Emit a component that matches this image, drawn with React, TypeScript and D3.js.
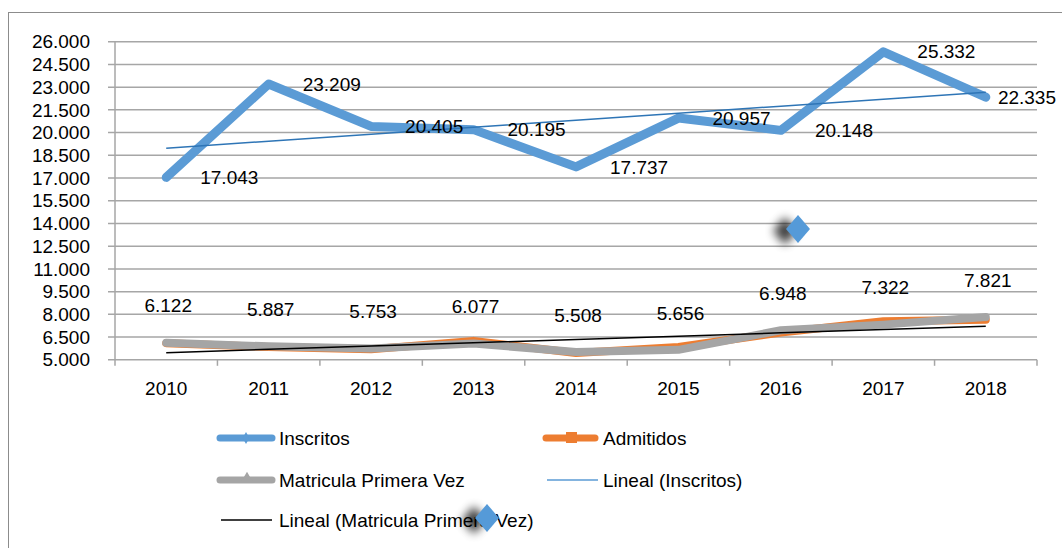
import React, { useEffect, useRef } from 'react';
import * as d3 from 'd3';

const years = ['2010', '2011', '2012', '2013', '2014', '2015', '2016', '2017', '2018'];
const inscritos = [17043, 23209, 20405, 20195, 17737, 20957, 20148, 25332, 22335];
const admitidos = [6100, 5850, 5700, 6250, 5450, 5850, 6800, 7550, 7650];
const matricula = [6122, 5887, 5753, 6077, 5508, 5656, 6948, 7322, 7821];
const yTicks = [5000, 6500, 8000, 9500, 11000, 12500, 14000, 15500, 17000, 18500, 20000, 21500, 23000, 24500, 26000];

const FONT = '"Liberation Sans", Arial, sans-serif';
const BLUE = '#5b9bd5';
const ORANGE = '#ed7d31';
const GREY = '#a5a5a5';

// least squares fit over the category index (Excel "Lineal" trendline)
function linearFit(values: number[]) {
  const n = values.length;
  const mx = (n - 1) / 2;
  const my = d3.mean(values) as number;
  let num = 0;
  let den = 0;
  values.forEach((v, i) => {
    num += (i - mx) * (v - my);
    den += (i - mx) * (i - mx);
  });
  const slope = num / den;
  return values.map((_, i) => my + slope * (i - mx));
}

function App() {
  const ref = useRef<SVGSVGElement | null>(null);

  const width = 1062;
  const height = 548;

  useEffect(() => {
    drawChart();
  }, []);

  function drawChart() {
    const svg = d3.select(ref.current);
    svg.selectAll('*').remove();

    const x = d3.scaleBand().domain(years).range([115, 1037]);
    const y = d3.scaleLinear().domain([5000, 26000]).range([359.8, 41.7]);
    const cx = (d: string) => (x(d) as number) + x.bandwidth() / 2;
    const fmt = d3.formatLocale({ decimal: ',', thousands: '.', grouping: [3], currency: ['', ''] }).format(',');

    const defs = svg.append('defs');
    defs
      .append('filter')
      .attr('id', 'blur')
      .attr('x', '-100%')
      .attr('y', '-100%')
      .attr('width', '300%')
      .attr('height', '300%')
      .append('feGaussianBlur')
      .attr('stdDeviation', 5);

    // outer chart frame
    svg
      .append('rect')
      .attr('x', 8.5)
      .attr('y', 12.5)
      .attr('width', 1200)
      .attr('height', 700)
      .attr('fill', '#fff')
      .attr('stroke', '#8c8c8c')
      .attr('stroke-width', 1);

    // gridlines
    svg
      .append('g')
      .selectAll('line')
      .data(yTicks)
      .enter()
      .append('line')
      .attr('x1', 108)
      .attr('x2', 1037)
      .attr('y1', d => y(d))
      .attr('y2', d => y(d))
      .attr('stroke', '#a6a6a6')
      .attr('stroke-width', 1.5);

    // y axis line + labels
    svg
      .append('line')
      .attr('x1', 115)
      .attr('x2', 115)
      .attr('y1', y(26000))
      .attr('y2', y(5000))
      .attr('stroke', '#a6a6a6')
      .attr('stroke-width', 1.5);

    svg
      .append('g')
      .selectAll('text')
      .data(yTicks)
      .enter()
      .append('text')
      .attr('x', 90)
      .attr('y', d => y(d))
      .attr('dy', '0.35em')
      .attr('text-anchor', 'end')
      .style('font-family', FONT)
      .style('font-size', '19px')
      .attr('fill', '#000')
      .text(d => fmt(d));

    // x axis ticks + labels
    const tickPos = years.map(d => x(d) as number).concat([x.range()[1]]);
    svg
      .append('g')
      .selectAll('line')
      .data(tickPos)
      .enter()
      .append('line')
      .attr('x1', d => d)
      .attr('x2', d => d)
      .attr('y1', y(5000))
      .attr('y2', y(5000) + 6)
      .attr('stroke', '#a6a6a6')
      .attr('stroke-width', 1.5);

    svg
      .append('g')
      .selectAll('text')
      .data(years)
      .enter()
      .append('text')
      .attr('x', d => cx(d))
      .attr('y', 388)
      .attr('dy', '0.35em')
      .attr('text-anchor', 'middle')
      .style('font-family', FONT)
      .style('font-size', '19px')
      .text(d => d);

    const line = d3
      .line<number>()
      .x((_, i) => cx(years[i]))
      .y(d => y(d));

    const drawSeries = (values: number[], color: string, w: number) =>
      svg
        .append('path')
        .attr('d', line(values))
        .attr('fill', 'none')
        .attr('stroke', color)
        .attr('stroke-width', w)
        .attr('stroke-linejoin', 'round')
        .attr('stroke-linecap', 'round');

    drawSeries(inscritos, BLUE, 9);
    drawSeries(admitidos, ORANGE, 8);
    drawSeries(matricula, GREY, 8);

    // trendlines
    drawSeries(linearFit(inscritos), '#2e75b6', 1.5).attr('stroke-linecap', 'butt');
    drawSeries(linearFit(matricula), '#000', 1.5).attr('stroke-linecap', 'butt');

    // data labels: Inscritos to the right
    svg
      .append('g')
      .selectAll('text')
      .data(inscritos)
      .enter()
      .append('text')
      .attr('y', d => y(d))
      .attr('dy', '0.35em')
      .style('font-family', FONT)
      .style('font-size', '19px')
      .text(d => fmt(d))
      .each(function (d, i) {
        const t = this as SVGTextElement;
        const w = t.getComputedTextLength();
        t.setAttribute('x', String(Math.min(cx(years[i]) + 34, 1056 - w)));
      });

    // data labels: Matricula above
    svg
      .append('g')
      .selectAll('text')
      .data(matricula)
      .enter()
      .append('text')
      .attr('x', (_, i) => cx(years[i]) + 2)
      .attr('y', d => y(d) - 37)
      .attr('dy', '0.35em')
      .attr('text-anchor', 'middle')
      .style('font-family', FONT)
      .style('font-size', '19px')
      .text(d => fmt(d));

    // legend
    const legend = svg.append('g');
    const legendText = (tx: number, ty: number, label: string) =>
      legend
        .append('text')
        .attr('x', tx)
        .attr('y', ty)
        .attr('dy', '0.35em')
        .style('font-family', FONT)
        .style('font-size', '19px')
        .text(label);
    const legendLine = (x1: number, x2: number, ly: number, color: string, w: number, cap: string) =>
      legend
        .append('line')
        .attr('x1', x1)
        .attr('x2', x2)
        .attr('y1', ly)
        .attr('y2', ly)
        .attr('stroke', color)
        .attr('stroke-width', w)
        .attr('stroke-linecap', cap);

    legendLine(220, 272, 438, BLUE, 7, 'round');
    legend
      .append('path')
      .attr('d', d3.symbol(d3.symbolDiamond, 40)())
      .attr('transform', 'translate(246,438)')
      .attr('fill', BLUE);
    legendText(279, 438, 'Inscritos');

    legendLine(546, 595, 438, ORANGE, 7, 'round');
    legend
      .append('rect')
      .attr('x', 566)
      .attr('y', 432)
      .attr('width', 11)
      .attr('height', 11)
      .attr('fill', ORANGE);
    legendText(603, 438, 'Admitidos');

    legendLine(220, 272, 480, GREY, 7, 'round');
    legend
      .append('path')
      .attr('d', d3.symbol(d3.symbolTriangle, 50)())
      .attr('transform', 'translate(247,478)')
      .attr('fill', GREY);
    legendText(279, 480, 'Matricula Primera Vez');

    legendLine(547, 598, 480, BLUE, 1.5, 'butt');
    legendText(603, 480, 'Lineal (Inscritos)');

    legendLine(221, 272, 520, '#000', 1.3, 'butt');
    legendText(279, 520, 'Lineal (Matricula Primera Vez)');

    // stray diamond shapes with soft shadow
    const diamonds = [
      [798, 229],
      [487, 518]
    ];
    diamonds.forEach(([dx, dy]) => {
      svg
        .append('path')
        .attr('d', 'M0,-14 L12,0 L0,14 L-12,0 Z')
        .attr('transform', `translate(${dx - 13},${dy + 2})`)
        .attr('fill', '#000')
        .attr('opacity', 0.75)
        .attr('filter', 'url(#blur)');
      svg
        .append('path')
        .attr('d', 'M0,-14 L12,0 L0,14 L-12,0 Z')
        .attr('transform', `translate(${dx},${dy})`)
        .attr('fill', '#559ad8');
    });
  }

  return (
    <svg
      ref={ref}
      width={width}
      height={height}
      style={{ position: 'absolute', left: 0, top: 0, background: '#fff' }}
    />
  );
}

export default App;
